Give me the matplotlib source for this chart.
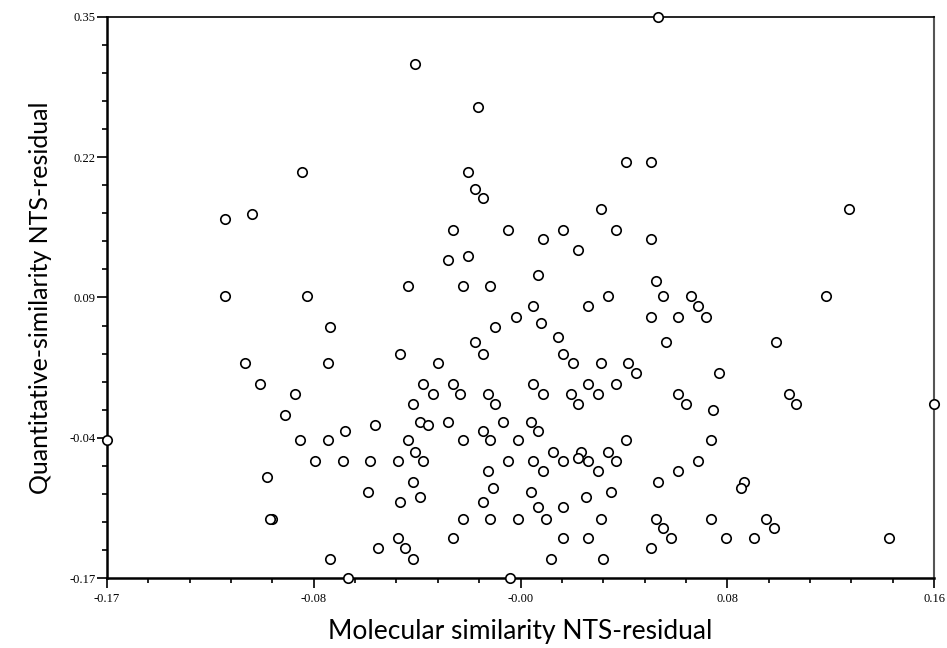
import numpy as np
import matplotlib.pyplot as plt

# residuals
mol_resid = [
    0.050, -0.047, -0.022, -0.092, -0.026, 0.037, 0.047, -0.023, -0.020, 0.027,
    0.126, -0.123, -0.112, -0.123, -0.090, -0.081, -0.115, -0.082, -0.109, -0.095,
    -0.032, -0.010, 0.012, 0.033, 0.004, 0.047, 0.018, -0.034, -0.026, 0.002,
    -0.050, -0.028, -0.017, 0.049, 0.052, 0.030, 0.000, 0.022, -0.007, 0.047,
    0.003, -0.015, 0.010, -0.023, 0.053, -0.053, -0.020, 0.012, -0.038, 0.016,
    0.027, 0.038, 0.041, -0.044, -0.032, 0.000, 0.022, 0.033, -0.040, -0.029,
    -0.018, 0.004, 0.015, 0.026, 0.063, 0.066, 0.058, 0.069, 0.117, 0.097,
    0.074, 0.058, 0.102, -0.099, -0.170, -0.093, -0.082, -0.075, -0.063, -0.087,
    -0.076, -0.065, -0.106, -0.066, -0.104, -0.105, -0.062, -0.081, -0.074, -0.048,
    -0.015, 0.018, -0.045, -0.042, -0.034, -0.012, -0.001, -0.020, 0.002, -0.050,
    -0.028, -0.017, -0.006, 0.037, -0.047, 0.008, 0.019, 0.030, -0.054, -0.044,
    -0.010, 0.000, 0.012, 0.018, 0.022, 0.033, -0.018, 0.004, 0.026, -0.048,
    0.050, -0.016, -0.001, 0.031, -0.053, -0.045, -0.020, 0.021, 0.002, 0.012,
    -0.028, -0.017, -0.006, 0.005, 0.027, 0.049, 0.052, 0.055, -0.054, -0.032,
    0.012, 0.022, -0.051, 0.047, -0.048, 0.007, 0.028, -0.009, 0.061, 0.105,
    0.072, 0.160, 0.071, 0.066, 0.058, 0.084, 0.083, 0.071, 0.093, 0.096,
    0.077, 0.088, 0.142,
]
quant_resid = [
    0.350, 0.306, 0.267, 0.206, 0.206, 0.216, 0.216, 0.191, 0.182, 0.172,
    0.172, 0.163, 0.167, 0.091, 0.091, 0.063, 0.029, 0.029, 0.010, 0.001,
    0.153, 0.153, 0.153, 0.153, 0.144, 0.144, 0.134, 0.125, 0.128, 0.111,
    0.101, 0.101, 0.101, 0.105, 0.091, 0.091, 0.082, 0.082, 0.072, 0.072,
    0.066, 0.063, 0.053, 0.049, 0.049, 0.038, 0.038, 0.038, 0.029, 0.029,
    0.029, 0.029, 0.020, 0.010, 0.010, 0.010, 0.010, 0.010, 0.001, 0.001,
    0.001, 0.001, 0.001, 0.001, 0.091, 0.082, 0.072, 0.072, 0.091, 0.049,
    0.020, 0.001, 0.001, -0.019, -0.042, -0.042, -0.042, -0.034, -0.028, -0.062,
    -0.062, -0.062, -0.076, -0.090, -0.115, -0.115, -0.142, -0.152, -0.170, -0.009,
    -0.009, -0.009, -0.025, -0.028, -0.025, -0.025, -0.025, -0.034, -0.034, -0.042,
    -0.042, -0.042, -0.042, -0.042, -0.053, -0.053, -0.053, -0.053, -0.062, -0.062,
    -0.062, -0.062, -0.062, -0.059, -0.062, -0.062, -0.071, -0.071, -0.071, -0.081,
    -0.081, -0.087, -0.090, -0.090, -0.100, -0.095, -0.100, -0.095, -0.104, -0.104,
    -0.115, -0.115, -0.115, -0.115, -0.115, -0.115, -0.124, -0.133, -0.133, -0.133,
    -0.133, -0.133, -0.142, -0.142, -0.152, -0.152, -0.152, -0.170, -0.009, -0.009,
    -0.014, -0.009, -0.042, -0.062, -0.071, -0.081, -0.087, -0.115, -0.115, -0.124,
    -0.133, -0.133, -0.133,
]

x_ticks = np.linspace(-0.17, 0.16, 5)
x_tick_labels = ['-0.17', '-0.08', '-0.00', '0.08', '0.16']
y_ticks = np.linspace(-0.17, 0.35, 5)
y_tick_labels = ['-0.17', '-0.04', '0.09', '0.22', '0.35']

fig = plt.figure(figsize=(9.47, 6.48), dpi=100)
ax = fig.add_axes([0.113, 0.108, 0.8733, 0.8658])

ax.plot(mol_resid, quant_resid, 'o', ms=6.8, mfc='white', mec='black',
        mew=1.2, clip_on=False, zorder=5)

ax.set_xlim(-0.17, 0.16)
ax.set_ylim(-0.17, 0.35)
ax.set_xticks(x_ticks)
ax.set_xticklabels(x_tick_labels)
ax.set_yticks(y_ticks)
ax.set_yticklabels(y_tick_labels)
ax.set_xticks(np.linspace(-0.17, 0.16, 21), minor=True)
ax.set_yticks(np.linspace(-0.17, 0.35, 21), minor=True)

ax.tick_params(which='both', direction='out', width=1.2, colors='black')
ax.tick_params(which='major', length=7.2)
ax.tick_params(which='minor', length=3.6)
ax.tick_params(axis='x', which='major', pad=3.5)
ax.tick_params(axis='y', which='major', pad=1.2)
for lab in ax.get_xticklabels() + ax.get_yticklabels():
    lab.set_fontfamily('Liberation Serif')
    lab.set_fontsize(9)

for side in ['left', 'bottom']:
    ax.spines[side].set_linewidth(1.8)
ax.spines['top'].set_linewidth(1.2)
ax.spines['right'].set_linewidth(1.5)
ax.spines['right'].set_color('#555555')

ax.set_xlabel('Molecular similarity NTS-residual', fontfamily='Lato',
              fontsize=19, labelpad=10)
ax.set_ylabel('Quantitative-similarity NTS-residual', fontfamily='Lato',
              fontsize=18, labelpad=12)

fig.savefig('out.png', dpi=100)
